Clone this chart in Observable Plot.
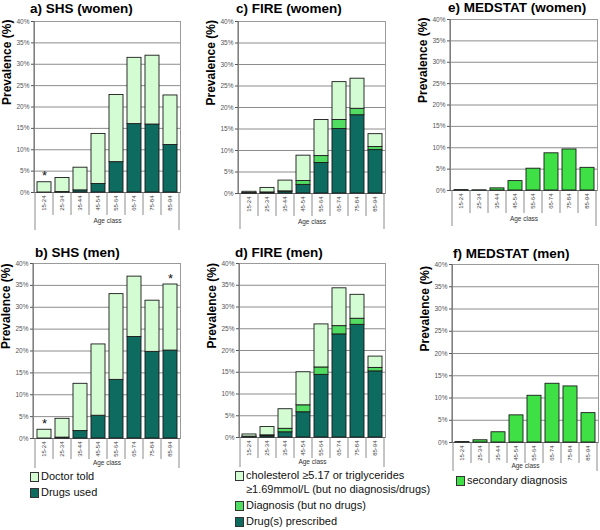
<!DOCTYPE html>
<html>
<head>
<meta charset="utf-8">
<script src="https://cdn.jsdelivr.net/npm/d3@7"></script>
<script src="https://cdn.jsdelivr.net/npm/@observablehq/plot@0.6"></script>
<style>
  html, body { margin: 0; padding: 0; background: #fff; }
  body { width: 600px; height: 530px; position: relative; overflow: hidden;
         font-family: "Liberation Sans", Arial, Helvetica, sans-serif; }
  .panel { position: absolute; }
  .panel svg { overflow: visible; }
  .title { position: absolute; font-weight: bold; font-size: 13.5px; line-height: 1; white-space: nowrap; color: #000; }
  .leg { position: absolute; font-size: 11px; line-height: 1; color: #111; white-space: nowrap; }
  .sw { position: absolute; width: 7px; height: 8px; border: 1px solid #333; box-sizing: content-box; }
</style>
</head>
<body>
<script>
// ---------------- data ----------------
const ages = ["15-24","25-34","35-44","45-54","55-64","65-74","75-84","85-94"];
const yTicks = [0, 5, 10, 15, 20, 25, 30, 35, 40];

// a) SHS women (stacked segments, %)
const shsWomenDrugs  = [0.0, 0.1, 0.5, 2.0, 7.1, 16.0, 15.9, 11.1];
const shsWomenDoctor = [2.4, 3.3, 5.3, 11.7, 15.7, 15.5, 16.1, 11.6];
const shsWomenStars  = ["15-24"];

// b) SHS men
const shsMenDrugs  = [0.0, 0.2, 1.7, 5.2, 13.4, 23.2, 19.8, 20.1];
const shsMenDoctor = [2.0, 4.3, 10.8, 16.3, 19.6, 13.8, 11.7, 15.1];
const shsMenStars  = ["15-24", "85-94"];

// c) FIRE women
const fireWomenDrugs = [0.05, 0.2, 0.4, 2.0, 7.1, 15.0, 18.2, 10.1];
const fireWomenDiag  = [0.05, 0.05, 0.1, 0.9, 1.6, 2.1, 1.5, 0.7];
const fireWomenChol  = [0.3, 1.05, 2.5, 5.9, 8.4, 8.8, 7.0, 3.0];

// d) FIRE men
const fireMenDrugs = [0.1, 0.3, 1.2, 5.8, 14.4, 23.7, 25.9, 15.2];
const fireMenDiag  = [0.1, 0.2, 0.8, 1.6, 1.7, 1.9, 1.4, 0.8];
const fireMenChol  = [0.5, 1.9, 4.5, 7.6, 9.9, 8.7, 5.5, 2.6];

// e) / f) MEDSTAT
const medWomen = [0.1, 0.05, 0.5, 2.2, 5.1, 8.7, 9.6, 5.3];
const medMen   = [0.1, 0.5, 2.3, 6.1, 10.5, 13.2, 12.6, 6.6];

// labels
const panelTitles = ["a) SHS (women)", "b) SHS (men)", "c) FIRE (women)", "d) FIRE (men)", "e) MEDSTAT (women)", "f) MEDSTAT (men)"];
const shsLegend  = ["Doctor told", "Drugs used"];
const fireLegend = ["cholesterol \u22655.17 or triglycerides", "\u22651.69mmol/L (but no diagnosis/drugs)", "Diagnosis (but no drugs)", "Drug(s) prescribed"];
const medLegend  = ["secondary diagnosis"];
const yTitle = "Prevalence (%)";
const xTitle = "Age class";

// ---------------- style ----------------
const LIGHT = "#d3fcd3", DARK = "#0e6b5f", MID = "#52dc62", MED = "#3ee046";
const FONT = "'Liberation Sans', Arial, Helvetica, sans-serif";

function separators(inner, outer) {
  return function (...args) {
    const scales = args.find(a => a && typeof a === "object" && typeof a.x === "function");
    const dims = args.find(a => a && typeof a === "object" && "marginLeft" in a && "height" in a);
    const x = scales.x;
    const bw = x.bandwidth ? x.bandwidth() : (dims.width - dims.marginLeft - dims.marginRight) / ages.length;
    const y0 = dims.height - dims.marginBottom;
    const edges = ages.map(a => x(a)).concat([x(ages[ages.length - 1]) + bw]);
    const g = d3.create("svg:g");
    edges.forEach((ex, i) => {
      const isOuter = i === 0 || i === edges.length - 1;
      g.append("line")
        .attr("x1", ex).attr("x2", ex)
        .attr("y1", y0).attr("y2", y0 + (isOuter ? outer : inner))
        .attr("stroke", "#8a8a8a").attr("stroke-width", 1);
    });
    return g.node();
  };
}

function panel(cfg) {
  const { left, top, width, height, mt, mb, ml, mr, series, stars = [], inner, outer, lab, title, tl, tt } = cfg;
  const rows = [];
  ages.forEach((age, i) => series.forEach(s => rows.push({ age, key: s.key, v: s.values[i] })));
  const totals = ages.map((a, i) => d3.sum(series, s => s.values[i]));
  const starRows = stars.map(a => ({ age: a, total: totals[ages.indexOf(a)] }));

  const chart = Plot.plot({
    width, height,
    marginTop: mt, marginBottom: mb, marginLeft: ml, marginRight: mr,
    style: { fontFamily: FONT, overflow: "visible", background: "transparent" },
    x: { domain: ages, padding: 0 },
    y: { domain: [0, 40] },
    color: { domain: series.map(s => s.key), range: series.map(s => s.color) },
    marks: [
      Plot.gridY(yTicks, { stroke: "#8c8c8c", strokeOpacity: 1, strokeWidth: 1 }),
      Plot.frame({ stroke: "#9a9a9a", strokeWidth: 1 }),
      Plot.ruleY([0], { stroke: "#555", strokeWidth: 1 }),
      Plot.axisY(yTicks, { tickFormat: d => d + "%", tickSize: 3, tickPadding: 2, fontSize: 6.5, color: "#555", label: null }),
      Plot.axisX({ tickRotate: -90, tickSize: 0, tickPadding: 3, fontSize: 6, color: "#444", label: null }),
      separators(inner, outer),
      Plot.barY(rows, { x: "age", y: "v", fill: "key", order: series.map(s => s.key),
                        stroke: "#1a1a1a", strokeWidth: 0.9, insetLeft: 2, insetRight: 2 }),
      Plot.text(starRows, { x: "age", y: "total", text: () => "*", dy: -6, fontSize: 13, fill: "#111" }),
      Plot.text([yTitle], { frameAnchor: "left", rotate: -90, dx: -27, dy: -2, fontSize: 12, fontWeight: "bold", fill: "#000" }),
      Plot.text([xTitle], { frameAnchor: "bottom", dy: lab, fontSize: 6.5, fill: "#333" })
    ]
  });

  const div = document.createElement("div");
  div.className = "panel";
  div.style.left = left + "px";
  div.style.top = top + "px";
  div.appendChild(chart);
  document.body.appendChild(div);
  // left axis line
  const svg = d3.select(chart.tagName === "svg" ? chart : chart.querySelector("svg"));
  svg.append("line")
    .attr("x1", ml).attr("x2", ml)
    .attr("y1", mt).attr("y2", height - mb)
    .attr("stroke", "#666").attr("stroke-width", 1);

  const t = document.createElement("div");
  t.className = "title";
  t.textContent = title;
  t.style.left = tl + "px";
  t.style.top = tt + "px";
  document.body.appendChild(t);
}

const shsW = [{ key: shsLegend[1], values: shsWomenDrugs, color: DARK }, { key: shsLegend[0], values: shsWomenDoctor, color: LIGHT }];
const shsM = [{ key: shsLegend[1], values: shsMenDrugs, color: DARK }, { key: shsLegend[0], values: shsMenDoctor, color: LIGHT }];
const fireW = [{ key: fireLegend[3], values: fireWomenDrugs, color: DARK }, { key: fireLegend[2], values: fireWomenDiag, color: MID }, { key: fireLegend[0], values: fireWomenChol, color: LIGHT }];
const fireM = [{ key: fireLegend[3], values: fireMenDrugs, color: DARK }, { key: fireLegend[2], values: fireMenDiag, color: MID }, { key: fireLegend[0], values: fireMenChol, color: LIGHT }];
const medW = [{ key: medLegend[0], values: medWomen, color: MED }];
const medM = [{ key: medLegend[0], values: medMen, color: MED }];

// row 1
panel({ left: 0,   top: 0, width: 200, height: 232, mt: 21, mb: 40, ml: 34, mr: 20, series: shsW, stars: shsWomenStars, inner: 23, outer: 38, lab: 30, title: panelTitles[0], tl: 30, tt: 2 });
panel({ left: 204, top: 0, width: 200, height: 232, mt: 21, mb: 39, ml: 34, mr: 19, series: fireW, inner: 23, outer: 36, lab: 30, title: panelTitles[2], tl: 236, tt: 2 });
panel({ left: 416, top: 0, width: 184, height: 230, mt: 19, mb: 40, ml: 34, mr: 3,  series: medW, inner: 23, outer: 36, lab: 30, title: panelTitles[4], tl: 448, tt: 1 });
// row 2
panel({ left: 0,   top: 242, width: 200, height: 234, mt: 21, mb: 38, ml: 33, mr: 20, series: shsM, stars: shsMenStars, inner: 21, outer: 30, lab: 26, title: panelTitles[1], tl: 35, tt: 246 });
panel({ left: 205, top: 242, width: 200, height: 234, mt: 21, mb: 39, ml: 34, mr: 20, series: fireM, inner: 21, outer: 30, lab: 26, title: panelTitles[3], tl: 235, tt: 246 });
panel({ left: 418, top: 243, width: 182, height: 237, mt: 21, mb: 38, ml: 34, mr: 2,  series: medM, inner: 21, outer: 29, lab: 25, title: panelTitles[5], tl: 453, tt: 247 });

// ---------------- legends ----------------
function legendItem(x, yCenter, color, text, textX) {
  if (color) {
    const s = document.createElement("div");
    s.className = "sw";
    s.style.left = x + "px";
    s.style.top = (yCenter - 5) + "px";
    s.style.background = color;
    document.body.appendChild(s);
  }
  const l = document.createElement("div");
  l.className = "leg";
  l.textContent = text;
  l.style.left = textX + "px";
  l.style.top = (yCenter - 6) + "px";
  document.body.appendChild(l);
}
legendItem(30, 477, LIGHT, shsLegend[0], 41);
legendItem(30, 493, DARK, shsLegend[1], 41);

legendItem(235, 476, LIGHT, fireLegend[0], 246);
legendItem(null, 490, null, fireLegend[1], 246);
legendItem(235, 506, MID, fireLegend[2], 246);
legendItem(235, 522, DARK, fireLegend[3], 246);

legendItem(456, 481, MED, medLegend[0], 467);
</script>
</body>
</html>
